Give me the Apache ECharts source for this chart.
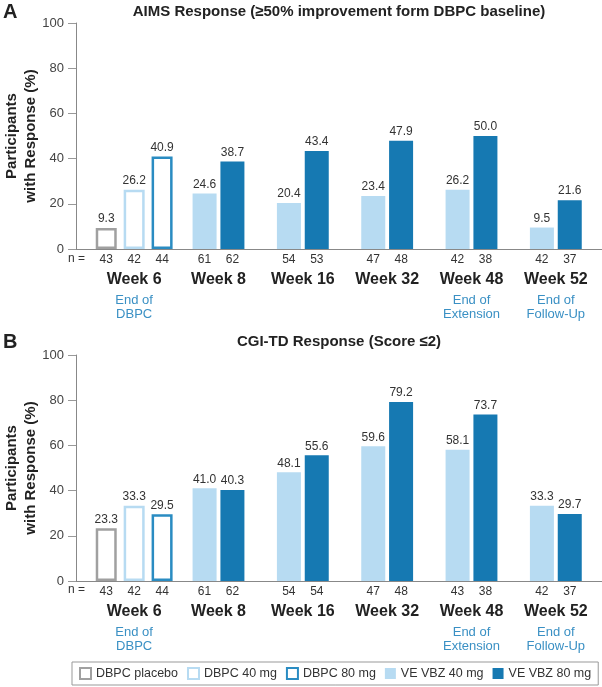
<!DOCTYPE html>
<html>
<head>
<meta charset="utf-8">
<script src="https://cdn.jsdelivr.net/npm/echarts@6/dist/echarts.min.js"></script>
<style>
  html, body { margin: 0; padding: 0; background: #fff; }
  #chart { width: 602px; height: 687px; }
</style>
</head>
<body>
<div id="chart"></div>
<script>
// week categories + notes under them
const weeks = ['Week 6', 'Week 8', 'Week 16', 'Week 32', 'Week 48', 'Week 52'];
const weekNotes = [['End of', 'DBPC'], [], [], [], ['End of', 'Extension'], ['End of', 'Follow-Up']];

// A: AIMS response
const aimsPlacebo = [9.3];
const aimsDbpc40 = [26.2];
const aimsDbpc80 = [40.9];
const aimsVe40 = [24.6, 20.4, 23.4, 26.2, 9.5];
const aimsVe80 = [38.7, 43.4, 47.9, 50.0, 21.6];
const aimsN = [[43, 42, 44], [61, 62], [54, 53], [47, 48], [42, 38], [42, 37]];

// B: CGI-TD response
const cgiPlacebo = [23.3];
const cgiDbpc40 = [33.3];
const cgiDbpc80 = [29.5];
const cgiVe40 = [41.0, 48.1, 59.6, 58.1, 33.3];
const cgiVe80 = [40.3, 55.6, 79.2, 73.7, 29.7];
const cgiN = [[43, 42, 44], [61, 62], [54, 54], [47, 48], [43, 38], [42, 37]];

const yTicks = [0, 20, 40, 60, 80, 100];

const FONT = '"Liberation Sans", Arial, sans-serif';
const GRAY = '#a0a0a0';
const LIGHT = '#b7dbf2';
const BLUE_LINE = '#2a8cc2';
const DARK = '#1679b2';
const NOTE = '#3a90c4';

const chart = echarts.init(document.getElementById('chart'));

// first week only, rest empty
const week6 = arr => [arr[0], '-', '-', '-', '-', '-'];
const later = arr => ['-'].concat(arr);

function weekLabel(nList) {
  return function (value, idx) {
    let s = nList[idx].map(n => '{n|' + n + '}').join('') + '\n{w|' + value + '}';
    weekNotes[idx].forEach(t => { s += '\n{e|' + t + '}'; });
    return s;
  };
}

const valLabel = {
  show: true, position: 'top', distance: 3, fontSize: 12, color: '#333', fontFamily: FONT,
  formatter: p => Number(p.value).toFixed(1)
};

const hollow = c => ({ color: '#fff', borderColor: c, borderWidth: 2.5 });

const tops = [23, 355];
const grids = [];
const xAxes = [];
const yAxes = [];
tops.forEach((t, p) => {
  grids.push({ left: 76, right: 0, top: t, height: 226, outerBoundsMode: 'none', containLabel: false });
  grids.push({ left: 92, right: 4, top: t, height: 226, outerBoundsMode: 'none', containLabel: false });
  const nList = p === 0 ? aimsN : cgiN;
  // axis line only
  xAxes.push({
    gridIndex: p * 2, type: 'value', min: 0, max: 1,
    axisLine: { show: true, lineStyle: { color: '#888', width: 1 } },
    axisTick: { show: false }, axisLabel: { show: false }, splitLine: { show: false }
  });
  // DBPC groups + labels
  xAxes.push({
    gridIndex: p * 2 + 1, type: 'category', data: weeks, position: 'bottom',
    axisLine: { show: false }, axisTick: { show: false },
    axisLabel: {
      interval: 0, margin: 4, formatter: weekLabel(nList), fontFamily: FONT,
      rich: {
        n: { width: 28, align: 'center', fontSize: 12, color: '#333', lineHeight: 14, fontFamily: FONT },
        w: { fontSize: 16, fontWeight: 'bold', color: '#222', lineHeight: 26, fontFamily: FONT },
        e: { fontSize: 13, color: NOTE, lineHeight: 14.5, fontFamily: FONT }
      }
    }
  });
  // VE groups
  xAxes.push({ gridIndex: p * 2 + 1, type: 'category', data: weeks, show: false });
  yAxes.push({
    gridIndex: p * 2, type: 'value', min: 0, max: 100, interval: 20,
    name: 'Participants\nwith Response (%)', nameLocation: 'middle', nameRotate: 90, nameGap: 36,
    nameMoveOverlap: false,
    nameTextStyle: { fontSize: 15, fontWeight: 'bold', color: '#222', lineHeight: 19, fontFamily: FONT },
    axisLine: { show: true, lineStyle: { color: '#888' } },
    axisTick: { show: true, length: 8, lineStyle: { color: '#999' } },
    axisLabel: { fontSize: 13, color: '#444', margin: 12, fontFamily: FONT,
      formatter: v => yTicks.indexOf(v) >= 0 ? String(v) : '' },
    splitLine: { show: false }
  });
  yAxes.push({ gridIndex: p * 2 + 1, type: 'value', min: 0, max: 100, show: false });
});

function panelSeries(p, placebo, d40, d80, v40, v80) {
  const xd = p * 3 + 1, xv = p * 3 + 2, y = p * 2 + 1;
  const dbpc = { type: 'bar', xAxisIndex: xd, yAxisIndex: y, barWidth: 21, barGap: '33%', label: valLabel };
  const ve = { type: 'bar', xAxisIndex: xv, yAxisIndex: y, barWidth: 24, barGap: '16%', label: valLabel };
  return [
    Object.assign({ name: 'DBPC placebo', data: week6(placebo), itemStyle: hollow(GRAY) }, dbpc),
    Object.assign({ name: 'DBPC 40 mg', data: week6(d40), itemStyle: hollow(LIGHT) }, dbpc),
    Object.assign({ name: 'DBPC 80 mg', data: week6(d80), itemStyle: hollow(BLUE_LINE) }, dbpc),
    Object.assign({ name: 'VE VBZ 40 mg', data: later(v40), itemStyle: { color: LIGHT } }, ve),
    Object.assign({ name: 'VE VBZ 80 mg', data: later(v80), itemStyle: { color: DARK } }, ve)
  ];
}

const series = panelSeries(0, aimsPlacebo, aimsDbpc40, aimsDbpc80, aimsVe40, aimsVe80)
  .concat(panelSeries(1, cgiPlacebo, cgiDbpc40, cgiDbpc80, cgiVe40, cgiVe80));

const option = {
  animation: false,
  textStyle: { fontFamily: FONT },
  title: [
    { text: 'AIMS Response (≥50% improvement form DBPC baseline)', left: 339, top: 4, textAlign: 'center', padding: 0,
      textStyle: { fontSize: 15, fontWeight: 'bold', color: '#222', fontFamily: FONT } },
    { text: 'CGI-TD Response (Score ≤2)', left: 339, top: 334, textAlign: 'center', padding: 0,
      textStyle: { fontSize: 15, fontWeight: 'bold', color: '#222', fontFamily: FONT } }
  ],
  graphic: [
    { type: 'text', left: 3, top: 2, style: { text: 'A', font: 'bold 20px ' + FONT, fill: '#222' } },
    { type: 'text', left: 3, top: 332, style: { text: 'B', font: 'bold 20px ' + FONT, fill: '#222' } },
    { type: 'text', left: 68, top: 253, style: { text: 'n =', font: '12px ' + FONT, fill: '#333' } },
    { type: 'text', left: 68, top: 584, style: { text: 'n =', font: '12px ' + FONT, fill: '#333' } }
  ],
  legend: {
    left: 72, top: 662, width: 530, padding: [5, 7], itemGap: 9, itemWidth: 11, itemHeight: 11, icon: 'rect',
    borderColor: '#999', borderWidth: 1,
    textStyle: { fontSize: 12.5, color: '#333', fontFamily: FONT },
    data: [
      { name: 'DBPC placebo', itemStyle: { borderWidth: 2 } },
      { name: 'DBPC 40 mg', itemStyle: { borderWidth: 2 } },
      { name: 'DBPC 80 mg', itemStyle: { borderWidth: 2 } },
      { name: 'VE VBZ 40 mg' },
      { name: 'VE VBZ 80 mg' }
    ]
  },
  grid: grids,
  xAxis: xAxes,
  yAxis: yAxes,
  series: series
};

chart.setOption(option);
</script>
</body>
</html>
